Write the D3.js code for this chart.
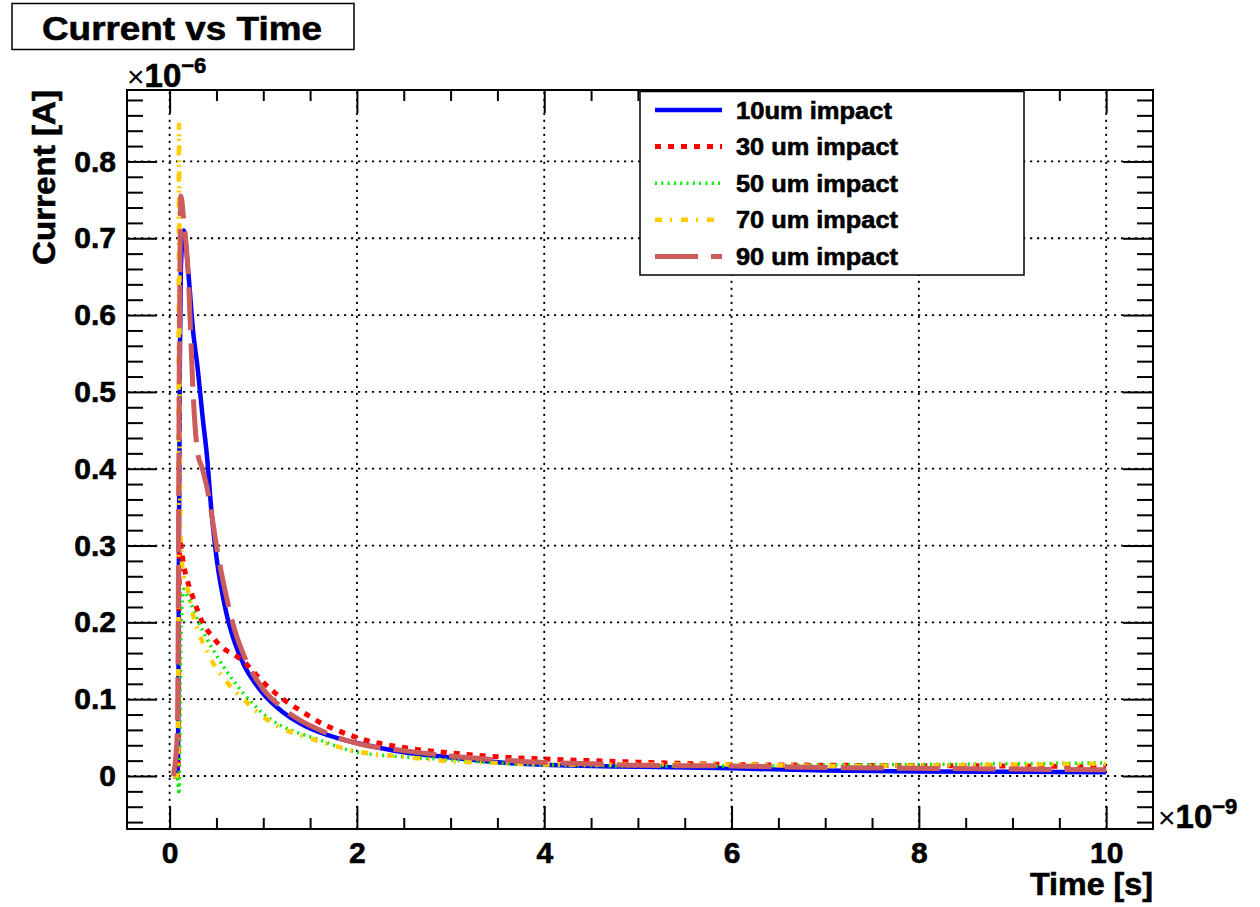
<!DOCTYPE html>
<html>
<head>
<meta charset="utf-8">
<script src="https://cdn.jsdelivr.net/npm/d3@7"></script>
<style>
  html, body { margin: 0; padding: 0; background: #ffffff; }
  svg { display: block; }
  text { font-family: "Liberation Sans", Arial, Helvetica, sans-serif; font-weight: bold; fill: #000;
         stroke: #000; stroke-width: 0.6px; }
</style>
</head>
<body>
<svg id="chart" width="1260" height="907"></svg>
<script>
// Time samples in ns (axis multiplier x10^-9)
const timeNs = [0.04, 0.08, 0.09, 0.10, 0.11, 0.12, 0.15, 0.2, 0.25, 0.3, 0.35, 0.4, 0.45, 0.5,
                0.6, 0.7, 0.8, 0.9, 1.0, 1.2, 1.4, 1.6, 1.8, 2.0, 2.5, 3.0, 3.5, 4.0, 4.5, 5.0,
                6.0, 7.0, 8.0, 9.0, 10.0];

// Induced current in uA (axis multiplier x10^-6), one array per impact position
const current10um = [0, 0, 0.02, 0.30, 0.55, 0.66, 0.71, 0.655, 0.58, 0.53, 0.47, 0.415, 0.34, 0.285,
                     0.215, 0.172, 0.143, 0.123, 0.107, 0.084, 0.068, 0.057, 0.049, 0.043, 0.031, 0.024, 0.018, 0.0145, 0.013, 0.012,
                     0.010, 0.007, 0.006, 0.0055, 0.005];
const current30um = [0, 0, 0.01, 0.22, 0.31, 0.30, 0.275, 0.25, 0.232, 0.215, 0.20, 0.19, 0.183, 0.175,
                     0.164, 0.157, 0.148, 0.135, 0.122, 0.101, 0.085, 0.070, 0.059, 0.050, 0.037, 0.030, 0.025, 0.022, 0.020, 0.018,
                     0.015, 0.014, 0.0135, 0.013, 0.012];
const current50um = [0, 0, -0.01, -0.024, 0.05, 0.18, 0.243, 0.232, 0.218, 0.203, 0.19, 0.178, 0.167, 0.157,
                     0.138, 0.121, 0.106, 0.093, 0.081, 0.065, 0.055, 0.047, 0.038, 0.031, 0.025, 0.021, 0.017, 0.0145, 0.0135, 0.013,
                     0.013, 0.0143, 0.015, 0.016, 0.017];
const current70um = [0, 0, 0.02, 0.848, 0.40, 0.30, 0.26, 0.24, 0.21, 0.19, 0.175, 0.162, 0.15, 0.14,
                     0.124, 0.11, 0.099, 0.087, 0.077, 0.062, 0.053, 0.045, 0.038, 0.032, 0.025, 0.019, 0.017, 0.015, 0.015, 0.015,
                     0.015, 0.013, 0.0135, 0.015, 0.016];
const current90um = [0, 0.05, 0.15, 0.45, 0.65, 0.755, 0.725, 0.65, 0.50, 0.42, 0.40, 0.375, 0.34, 0.30,
                     0.237, 0.188, 0.155, 0.131, 0.113, 0.089, 0.072, 0.060, 0.050, 0.0425, 0.033, 0.026, 0.021, 0.0175, 0.016, 0.014,
                     0.013, 0.011, 0.010, 0.009, 0.008];

const seriesNames = ["10um impact", "30 um impact", "50 um impact", "70 um impact", "90 um impact"];

// Tick positions and labels
const xTickValues = [0, 2, 4, 6, 8, 10];
const xTickLabels = ["0", "2", "4", "6", "8", "10"];
const yTickValues = [0, 0.1, 0.2, 0.3, 0.4, 0.5, 0.6, 0.7, 0.8];
const yTickLabels = ["0", "0.1", "0.2", "0.3", "0.4", "0.5", "0.6", "0.7", "0.8"];

// ---- layout and styles ----
const frame = { left: 127, right: 1153, top: 90, bottom: 829 };
const seriesStyles = [
  { color: "#0000ff", width: 4.5, dash: null },
  { color: "#ff0000", width: 5,   dash: "6,7" },
  { color: "#00ee00", width: 3.5, dash: "2,4.3" },
  { color: "#ffcc00", width: 4.5, dash: "7,8,2,9" },
  { color: "#cd5c5c", width: 5,   dash: "43,13" }
];
const seriesValues = [current10um, current30um, current50um, current70um, current90um];

const svg = d3.select("#chart");
svg.append("rect").attr("width", 1260).attr("height", 907).attr("fill", "#fff");

const x = d3.scaleLinear().domain([-0.455, 10.5]).range([frame.left, frame.right]);
const y = d3.scaleLinear().domain([-0.069, 0.893]).range([frame.bottom, frame.top]);

// Fit a text element to a given horizontal length
function fitTo(sel, len) {
  sel.attr("textLength", len).attr("lengthAdjust", "spacingAndGlyphs");
}

// ---- grid ----
const grid = svg.append("g").attr("stroke", "#000").attr("stroke-width", 1.8)
  .attr("stroke-dasharray", "2.2,4.8");
grid.selectAll("line.v").data(xTickValues).join("line")
  .attr("x1", d => x(d)).attr("x2", d => x(d))
  .attr("y1", frame.bottom).attr("y2", frame.top);
grid.selectAll("line.h").data(yTickValues).join("line")
  .attr("y1", d => y(d)).attr("y2", d => y(d))
  .attr("x1", frame.left).attr("x2", frame.right);

// ---- axes (ticks point inward, on all four sides) ----
const xMinor = d3.range(0, 10.5, 0.5).filter(v => !xTickValues.includes(v));
const yMinor = d3.range(-6, 45, 1).map(v => v * 0.02)
  .filter(v => Math.abs(Math.round(v * 10) - v * 10) > 1e-6 && v > -0.069 && v < 0.893);

function styleAxis(g) {
  g.select(".domain").remove();
  g.selectAll(".tick line").attr("stroke", "#000").attr("stroke-width", 2);
}

svg.append("g").attr("transform", `translate(0,${frame.bottom})`)
  .call(d3.axisBottom(x).tickValues(xTickValues).tickSize(-23).tickPadding(13)
        .tickFormat((d, i) => xTickLabels[i]))
  .call(styleAxis)
  .call(g => g.selectAll("text").attr("font-size", 30).attr("font-family", null));
svg.append("g").attr("transform", `translate(0,${frame.bottom})`)
  .call(d3.axisBottom(x).tickValues(xMinor).tickSize(-11).tickFormat(""))
  .call(styleAxis);
svg.append("g").attr("transform", `translate(0,${frame.top})`)
  .call(d3.axisTop(x).tickValues(xTickValues).tickSize(-23).tickFormat(""))
  .call(styleAxis);
svg.append("g").attr("transform", `translate(0,${frame.top})`)
  .call(d3.axisTop(x).tickValues(xMinor).tickSize(-11).tickFormat(""))
  .call(styleAxis);

svg.append("g").attr("transform", `translate(${frame.left},0)`)
  .call(d3.axisLeft(y).tickValues(yTickValues).tickSize(-30).tickPadding(11)
        .tickFormat((d, i) => yTickLabels[i]))
  .call(styleAxis)
  .call(g => g.selectAll("text").attr("font-size", 30).attr("font-family", null));
svg.append("g").attr("transform", `translate(${frame.left},0)`)
  .call(d3.axisLeft(y).tickValues(yMinor).tickSize(-16).tickFormat(""))
  .call(styleAxis);
svg.append("g").attr("transform", `translate(${frame.right},0)`)
  .call(d3.axisRight(y).tickValues(yTickValues).tickSize(-30).tickFormat(""))
  .call(styleAxis);
svg.append("g").attr("transform", `translate(${frame.right},0)`)
  .call(d3.axisRight(y).tickValues(yMinor).tickSize(-16).tickFormat(""))
  .call(styleAxis);

// ---- curves ----
svg.append("clipPath").attr("id", "plotClip").append("rect")
  .attr("x", frame.left).attr("y", frame.top)
  .attr("width", frame.right - frame.left).attr("height", frame.bottom - frame.top);

const line = d3.line()
  .x(d => x(d.t))
  .y(d => y(d.v))
  .curve(d3.curveMonotoneX);

const curves = svg.append("g").attr("clip-path", "url(#plotClip)");
seriesValues.forEach((vals, i) => {
  const pts = timeNs.map((t, k) => ({ t, v: vals[k] }));
  const st = seriesStyles[i];
  curves.append("path")
    .datum(pts)
    .attr("d", line)
    .attr("fill", "none")
    .attr("stroke", st.color)
    .attr("stroke-width", st.width)
    .attr("stroke-dasharray", st.dash)
    .attr("stroke-linejoin", "round");
});

// ---- frame ----
svg.append("rect")
  .attr("x", frame.left).attr("y", frame.top)
  .attr("width", frame.right - frame.left).attr("height", frame.bottom - frame.top)
  .attr("fill", "none").attr("stroke", "#000").attr("stroke-width", 2);

// ---- axis exponents ----
function exponent(px, py, power) {
  const t = svg.append("text").attr("x", px).attr("y", py).attr("font-size", 33);
  t.append("tspan").attr("font-weight", "normal").attr("font-size", 30)
    .style("stroke-width", 0).text("\u00d7");
  t.append("tspan").text("10");
  t.append("tspan").attr("font-size", 22).attr("dy", -14).text("\u2212" + power);
}
exponent(127, 87, 6);
exponent(1158, 828, 9);

// ---- axis titles ----
svg.append("text")
  .attr("transform", `translate(55,${frame.top}) rotate(-90)`)
  .attr("text-anchor", "end").attr("font-size", 31)
  .text("Current [A]")
  .call(fitTo, 175);

svg.append("text")
  .attr("x", frame.right).attr("y", 895)
  .attr("text-anchor", "end").attr("font-size", 31)
  .text("Time [s]")
  .call(fitTo, 123);

// ---- title box ----
svg.append("rect").attr("x", 12).attr("y", 3.5).attr("width", 342).attr("height", 46)
  .attr("fill", "#fff").attr("stroke", "#000").attr("stroke-width", 1.5);
svg.append("text").attr("x", 42).attr("y", 40).attr("font-size", 33)
  .text("Current vs Time")
  .call(fitTo, 280);

// ---- legend ----
const legend = svg.append("g");
legend.append("rect").attr("x", 640).attr("y", 91.5).attr("width", 384).attr("height", 183.5)
  .attr("fill", "#fff").attr("stroke", "#000").attr("stroke-width", 1.5);
seriesNames.forEach((name, i) => {
  const cy = 110 + i * 36.6;
  const st = seriesStyles[i];
  legend.append("line")
    .attr("x1", 655).attr("x2", 722).attr("y1", cy).attr("y2", cy)
    .attr("stroke", st.color).attr("stroke-width", st.width)
    .attr("stroke-dasharray", st.dash);
  legend.append("text").attr("x", 736).attr("y", cy + 8.5).attr("font-size", 23.5)
    .text(name)
    .call(fitTo, i === 0 ? 156 : 162);
});
</script>
</body>
</html>
